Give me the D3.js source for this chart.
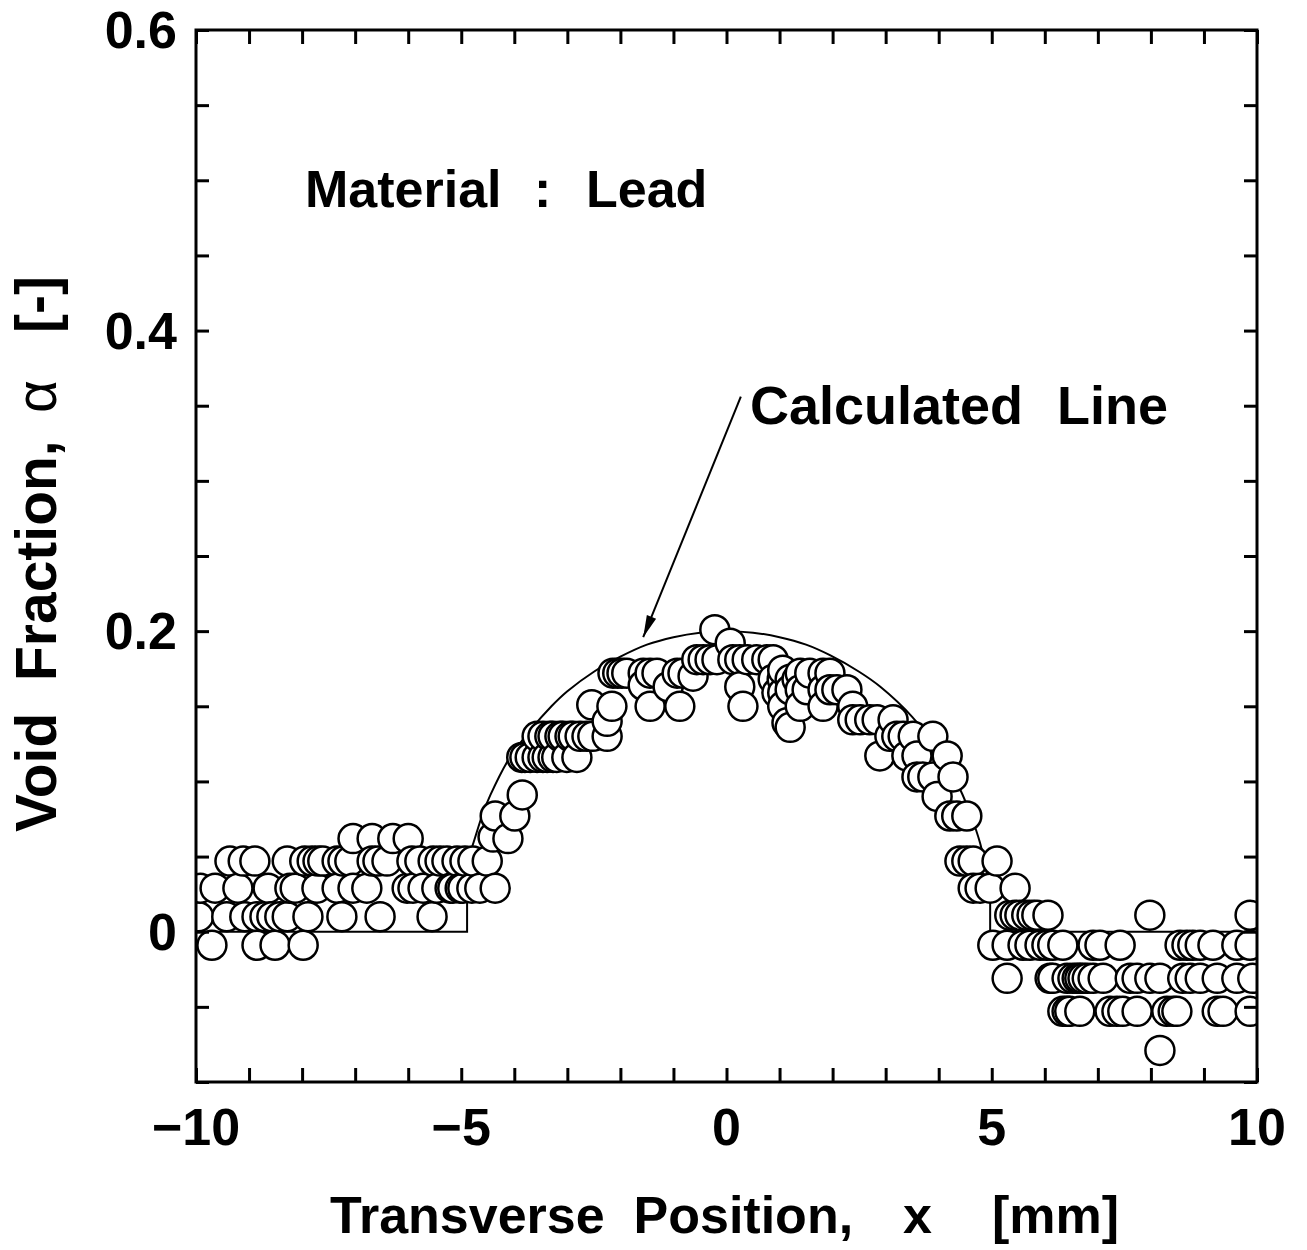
<!DOCTYPE html>
<html lang="en">
<head>
<meta charset="utf-8">
<title>Void fraction profile - Lead</title>
<style>
  body { margin: 0; background: #fff; }
  text { font-family: "Liberation Sans", Arial, sans-serif; font-weight: bold; fill: #000; }
</style>
<script src="https://d3js.org/d3.v7.min.js"></script>
</head>
<body>
<svg width="1307" height="1250"></svg>
<script>
const leftPlateau = [
  [-7.04,0.062],[-6.68,0.062],[-6.29,0.062],[-6.00,0.062],
  [-9.36,0.047],[-9.11,0.047],[-8.89,0.047],[-8.28,0.047],[-7.95,0.047],[-7.81,0.047],[-7.70,0.047],[-7.61,0.047],
  [-7.34,0.047],[-7.23,0.047],[-7.10,0.047],[-6.68,0.047],[-6.57,0.047],[-6.40,0.047],[-5.93,0.047],[-5.78,0.047],
  [-5.53,0.047],[-5.40,0.047],[-5.27,0.047],[-5.08,0.047],[-4.93,0.047],[-4.78,0.047],[-4.51,0.047],
  [-9.92,0.029],[-9.64,0.029],[-9.21,0.029],[-8.64,0.029],[-8.23,0.029],[-8.13,0.029],[-7.72,0.029],[-7.34,0.029],
  [-7.04,0.029],[-6.78,0.029],[-6.02,0.029],[-5.91,0.029],[-5.72,0.029],[-5.46,0.029],[-5.21,0.029],[-5.16,0.029],
  [-5.02,0.029],[-4.97,0.029],[-4.80,0.029],[-4.65,0.029],[-4.36,0.029],
  [-9.95,0.010],[-9.42,0.010],[-9.08,0.010],[-8.85,0.010],[-8.70,0.010],[-8.57,0.010],[-8.42,0.010],[-8.28,0.010],
  [-7.89,0.010],[-7.25,0.010],[-6.53,0.010],[-5.55,0.010],
  [-9.70,-0.009],[-8.85,-0.009],[-8.51,-0.009],[-7.98,-0.009]
];
const risingEdge = [
  [-4.40,0.063],[-4.12,0.062],[-4.36,0.077],[-3.99,0.077],[-3.85,0.091],
  [-3.86,0.116],[-3.80,0.116],[-3.70,0.116],[-3.57,0.116],[-3.46,0.116],[-3.38,0.116],[-3.27,0.116],[-3.20,0.116],
  [-3.01,0.116],[-2.82,0.116],
  [-3.57,0.130],[-3.46,0.130],[-3.33,0.130],[-3.27,0.130],[-3.14,0.130],[-3.08,0.130],[-2.95,0.130],[-2.89,0.130],
  [-2.76,0.130],[-2.63,0.130],[-2.52,0.130],[-2.25,0.130]
];
const peak = [
  [-2.54,0.151],[-2.25,0.140],[-2.16,0.150],
  [-2.14,0.172],[-2.05,0.172],[-1.97,0.172],[-1.88,0.172],[-1.57,0.172],[-1.44,0.172],[-1.31,0.172],[-0.93,0.172],[-0.82,0.172],
  [-1.57,0.164],[-1.10,0.163],[-1.44,0.150],[-0.88,0.150],[-0.63,0.170],
  [-0.56,0.181],[-0.44,0.181],[-0.31,0.181],[-0.18,0.181],
  [-0.22,0.201],[0.07,0.192],
  [0.12,0.181],[0.25,0.181],[0.39,0.181],[0.57,0.181],[0.76,0.181],[0.88,0.181],
  [0.25,0.163],[0.31,0.150],
  [0.88,0.168],[1.05,0.168],[1.20,0.168],[1.33,0.168],
  [0.95,0.159],[1.06,0.159],[1.14,0.139]
];
const fallingEdge = [
  [1.06,0.174],
  [1.39,0.172],[1.57,0.172],[1.82,0.172],[1.95,0.172],
  [1.20,0.161],[1.39,0.161],[1.52,0.161],[1.82,0.161],[1.95,0.161],[2.08,0.161],[2.27,0.161],
  [1.06,0.150],[1.39,0.150],[1.82,0.150],[2.38,0.150],
  [2.38,0.141],[2.52,0.141],[2.70,0.141],[2.84,0.141],[3.14,0.141],
  [1.20,0.136],
  [3.08,0.130],[3.21,0.130],[3.33,0.130],[3.52,0.130],[3.89,0.130],
  [2.89,0.117],[3.40,0.117],[3.59,0.117],[4.16,0.117],
  [3.59,0.103],[3.70,0.103],[3.89,0.103],[4.27,0.103],
  [3.97,0.090],
  [4.21,0.077],[4.34,0.077],[4.53,0.077],
  [4.40,0.047],[4.53,0.047],[4.65,0.047],[5.10,0.047],
  [4.65,0.029],[4.78,0.029],[4.97,0.029],[5.44,0.029],
  [5.34,0.011],[5.44,0.011],[5.53,0.011],[5.66,0.011],[5.76,0.011],[5.85,0.011],[6.06,0.011],
  [5.02,-0.009],[5.29,-0.009],[5.59,-0.009],[5.72,-0.009],[5.91,-0.009],[6.04,-0.009],[6.15,-0.009],[6.34,-0.009],[6.91,-0.009],
  [5.29,-0.031],[6.15,-0.031],[6.42,-0.031],[6.53,-0.031],[6.66,-0.031],[6.80,-0.031],[6.91,-0.031],
  [6.34,-0.053],[6.47,-0.053],[6.66,-0.053]
];
const rightPlateau = [
  [7.98,0.011],[9.87,0.011],
  [7.04,-0.009],[7.42,-0.009],[8.55,-0.009],[8.68,-0.009],[8.79,-0.009],[8.93,-0.009],[9.17,-0.009],[9.62,-0.009],[9.87,-0.009],
  [6.10,-0.031],[6.61,-0.031],[6.72,-0.031],[7.10,-0.031],[7.61,-0.031],[7.74,-0.031],[7.98,-0.031],[8.17,-0.031],
  [8.60,-0.031],[8.74,-0.031],[8.93,-0.031],[9.25,-0.031],[9.62,-0.031],[9.92,-0.031],
  [6.42,-0.053],[7.23,-0.053],[7.36,-0.053],[7.47,-0.053],[7.74,-0.053],[8.30,-0.053],[8.42,-0.053],[8.49,-0.053],
  [9.25,-0.053],[9.36,-0.053],[9.87,-0.053],
  [8.17,-0.079]
];

// calculated line (curved part), plus the flat zero parts on either side
const calcX     = [-4.89,-4.80,-4.60,-4.45,-4.10,-3.70,-3.30,-3.00,-2.50,-2.00,-1.50,-1.00,-0.50,0,0.50,1.00,1.50,1.95,2.50,2.90,3.50,4.00,4.40,4.60,4.78,4.90,4.97];
const calcAlpha = [0.048,0.056,0.078,0.091,0.115,0.134,0.150,0.160,0.173,0.183,0.191,0.196,0.199,0.200,0.199,0.196,0.191,0.184,0.173,0.163,0.143,0.120,0.095,0.078,0.059,0.040,0.022];
const calcLeftX  = [-10,-4.89,-4.89];
const calcLeftA  = [0,0,0.048];
const calcRightX = [4.97,4.97,10];
const calcRightA = [0.022,0,0];

const xTicks = d3.range(-10, 11, 1);
const yTicks = d3.range(-0.1, 0.6001, 0.05);
const xLabels = [-10, -5, 0, 5, 10];
const yLabels = [0, 0.2, 0.4, 0.6];

const svg = d3.select("svg");
const x = d3.scaleLinear().domain([-10, 10]).range([196, 1257]);
const y = d3.scaleLinear().domain([-0.1, 0.6]).range([1082, 30]);

svg.append("clipPath").attr("id", "plot")
  .append("rect").attr("x", 196).attr("y", 30).attr("width", 1061).attr("height", 1052);

// calculated line
const line = d3.line().x(d => x(d[0])).y(d => y(d[1]));
const plot = svg.append("g").attr("clip-path", "url(#plot)");
plot.append("path")
  .attr("d", line.curve(d3.curveCatmullRom)(calcX.map((v, i) => [v, calcAlpha[i]])))
  .attr("fill", "none").attr("stroke", "#000").attr("stroke-width", 2);
[[calcLeftX, calcLeftA], [calcRightX, calcRightA]].forEach(([xs, as]) => {
  plot.append("path")
    .attr("d", line.curve(d3.curveLinear)(xs.map((v, i) => [v, as[i]])))
    .attr("fill", "none").attr("stroke", "#000").attr("stroke-width", 2);
});

// measured points, drawn left to right so each covers the one before
const points = [...leftPlateau, ...risingEdge, ...peak, ...fallingEdge, ...rightPlateau]
  .sort((a, b) => a[0] - b[0]);
plot.append("g").selectAll("circle")
  .data(points)
  .join("circle")
  .attr("cx", d => x(d[0]))
  .attr("cy", d => y(d[1]))
  .attr("r", 14.5)
  .attr("fill", "#fff")
  .attr("stroke", "#000")
  .attr("stroke-width", 2.5);

// frame and inward ticks
svg.append("rect").attr("x", 196).attr("y", 30).attr("width", 1061).attr("height", 1052)
  .attr("fill", "none").attr("stroke", "#000").attr("stroke-width", 3);

function ticks(axis, tx, ty) {
  svg.append("g").attr("transform", `translate(${tx},${ty})`)
    .call(axis)
    .call(g => g.select(".domain").remove())
    .selectAll("line").attr("stroke", "#000").attr("stroke-width", 3);
}
ticks(d3.axisBottom(x).tickValues(xTicks).tickSize(-14).tickFormat(""), 0, 1082);
ticks(d3.axisTop(x).tickValues(xTicks).tickSize(-14).tickFormat(""), 0, 30);
ticks(d3.axisLeft(y).tickValues(yTicks).tickSize(-13).tickFormat(""), 196, 0);
ticks(d3.axisRight(y).tickValues(yTicks).tickSize(-13).tickFormat(""), 1257, 0);

// tick labels
svg.append("g").selectAll("text")
  .data(xLabels).join("text")
  .attr("x", d => x(d)).attr("y", 1145)
  .attr("text-anchor", "middle").style("font-size", "52px")
  .text(d => d < 0 ? "\u2212" + Math.abs(d) : String(d));
svg.append("g").selectAll("text")
  .data(yLabels).join("text")
  .attr("x", 177).attr("y", d => y(d)).attr("dy", "0.35em")
  .attr("text-anchor", "end").style("font-size", "52px")
  .text(d => d === 0 ? "0" : d.toFixed(1));

// annotations
const note = (t, px, py, fs) => svg.append("text").attr("x", px).attr("y", py).style("font-size", fs + "px").text(t);
note("Material", 305, 207, 52);
note(":", 534, 207, 52);
note("Lead", 586, 207, 52);
note("Calculated", 750, 424, 54);
note("Line", 1057, 424, 54);

const arrowFrom = [0.27, 0.356], arrowTo = [-1.57, 0.196];
const ax0 = x(arrowFrom[0]), ay0 = y(arrowFrom[1]), ax1 = x(arrowTo[0]), ay1 = y(arrowTo[1]);
svg.append("line").attr("x1", ax0).attr("y1", ay0).attr("x2", ax1).attr("y2", ay1)
  .attr("stroke", "#000").attr("stroke-width", 2);
const ang = Math.atan2(ay1 - ay0, ax1 - ax0), hl = 22, hw = 5;
const bx = ax1 - hl * Math.cos(ang), by = ay1 - hl * Math.sin(ang);
svg.append("path")
  .attr("d", `M${ax1},${ay1}L${bx + hw * Math.sin(ang)},${by - hw * Math.cos(ang)}L${bx - hw * Math.sin(ang)},${by + hw * Math.cos(ang)}Z`)
  .attr("fill", "#000");

// axis titles
note("Transverse\u00a0\u00a0Position,", 330, 1233, 52);
note("x", 903, 1233, 52);
note("[mm]", 992, 1233, 52);

const yt = svg.append("g").attr("transform", "translate(56,0) rotate(-90)");
yt.append("text").attr("x", -832).attr("y", 0).style("font-size", "57px").text("Void\u00a0\u00a0Fraction,");
yt.append("text").attr("x", -413).attr("y", 0).style("font-size", "57px").style("font-weight", "normal").text("\u03b1");
yt.append("text").attr("x", -333).attr("y", 0).style("font-size", "57px").text("[-]");
</script>
</body>
</html>
